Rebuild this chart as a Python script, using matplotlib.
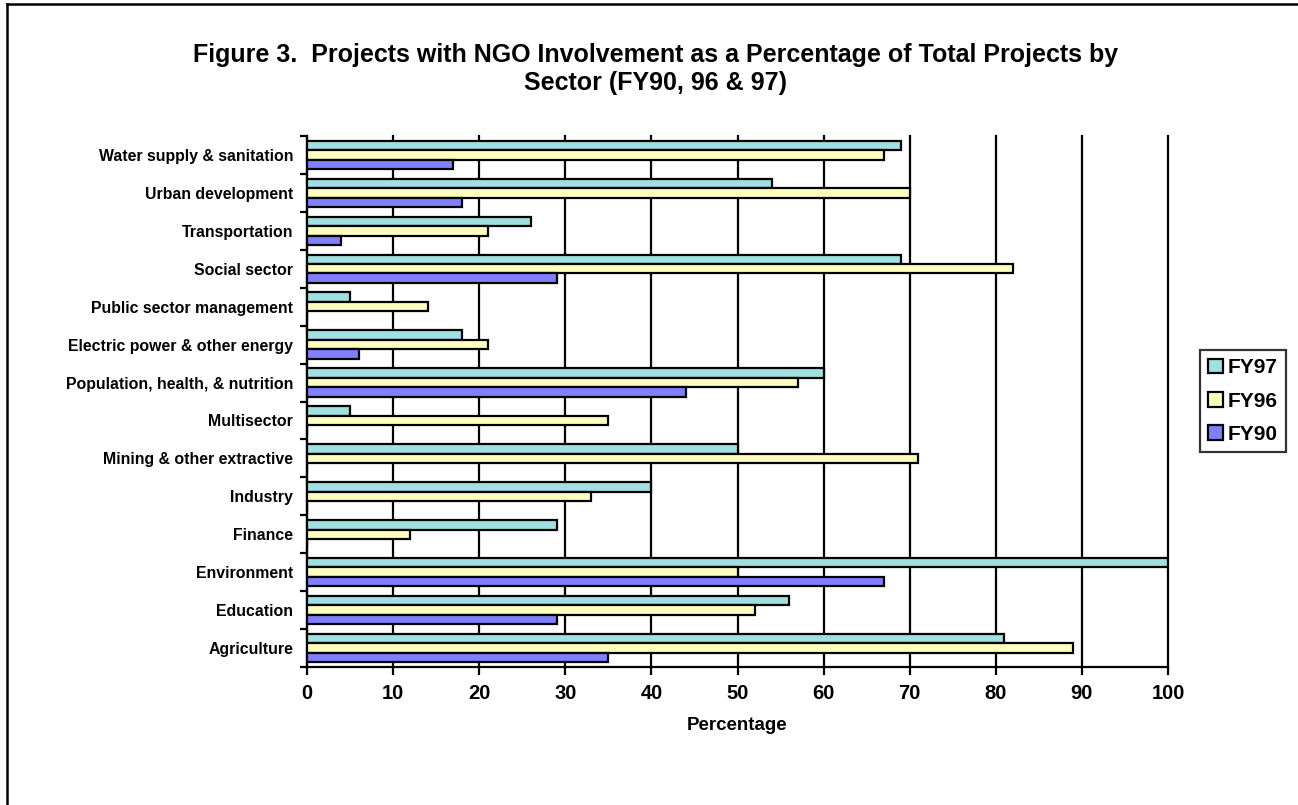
import matplotlib
matplotlib.use("Agg")
import matplotlib.pyplot as plt
import matplotlib.lines as mlines
import numpy as np

plt.rcParams['font.family'] = ['Liberation Sans', 'DejaVu Sans']
plt.rcParams['font.weight'] = 'bold'

# sectors listed bottom to top
sectors = ["Agriculture", "Education", "Environment", "Finance", "Industry",
           "Mining & other extractive", "Multisector",
           "Population, health, & nutrition", "Electric power & other energy",
           "Public sector management", "Social sector", "Transportation",
           "Urban development", "Water supply & sanitation"]
fy97 = [81, 56, 100, 29, 40, 50, 5, 60, 18, 5, 69, 26, 54, 69]
fy96 = [89, 52, 50, 12, 33, 71, 35, 57, 21, 14, 82, 21, 70, 67]
fy90 = [35, 29, 67, 0, 0, 0, 0, 44, 6, 0, 29, 4, 18, 17]

c97 = '#a0e0e0'
c96 = '#ffffc0'
c90 = '#8080ff'

fig = plt.figure(figsize=(12.98, 8.05), dpi=100)
ax = fig.add_axes([307/1298, 1-667/805, (1168-307)/1298, (667-136)/805])

y = np.arange(len(sectors))
h = 0.25
lw = 1.6
ax.barh(y + h, fy97, height=h, color=c97, edgecolor='black', linewidth=lw, label='FY97', zorder=3)
ax.barh(y, fy96, height=h, color=c96, edgecolor='black', linewidth=lw, label='FY96', zorder=3)
ax.barh(y - h, fy90, height=h, color=c90, edgecolor='black', linewidth=lw, label='FY90', zorder=3)

ax.set_xlim(0, 100)
ax.set_ylim(-0.5, len(sectors) - 0.5)
ax.set_xticks(np.arange(0, 101, 10))
ax.xaxis.grid(True, color='black', linewidth=1.6, zorder=1)
for gl in ax.get_xgridlines():
    gl.set_clip_on(False)
ax.set_axisbelow(True)

# category labels in the middle, ticks at group boundaries
ax.set_yticks(y)
ax.set_yticklabels(sectors, fontsize=11.4, fontweight='bold')
ax.tick_params(axis='y', length=0, pad=10)
ax.set_yticks(np.arange(-0.5, len(sectors), 1), minor=True)
ax.tick_params(axis='y', which='minor', length=5, width=1.6, direction='out')
ax.tick_params(axis='x', length=6, width=1.6, labelsize=14.5, pad=6)
for lbl in ax.get_xticklabels():
    lbl.set_fontweight('bold')

for s in ['top', 'right']:
    ax.spines[s].set_visible(False)
for s in ['left', 'bottom']:
    ax.spines[s].set_linewidth(1.6)

ax.set_xlabel('Percentage', fontsize=13.5, fontweight='bold', labelpad=10)

fig.text(656/1298, 1-55/805, 'Figure 3.  Projects with NGO Involvement as a Percentage of Total Projects by',
         ha='center', va='center', fontsize=18, fontweight='bold')
fig.text(656/1298, 1-83/805, 'Sector (FY90, 96 & 97)',
         ha='center', va='center', fontsize=18, fontweight='bold')

leg = fig.legend(loc='center', bbox_to_anchor=(1243/1298, 1-401/805), frameon=True,
                 fancybox=False, edgecolor='black', fontsize=15,
                 handlelength=0.7, handleheight=0.7, handletextpad=0.25,
                 labelspacing=0.68, borderpad=0.4, borderaxespad=0)
leg.get_frame().set_linewidth(1.6)
for t in leg.get_texts():
    t.set_fontweight('bold')

# frame lines along the top and left of the page
fig.add_artist(mlines.Line2D([7/1298, 1], [1-4/805, 1-4/805], transform=fig.transFigure,
                             color='black', linewidth=1.8))
fig.add_artist(mlines.Line2D([7/1298, 7/1298], [0, 1-4/805], transform=fig.transFigure,
                             color='black', linewidth=1.8))

fig.savefig('out.png', dpi=100)
